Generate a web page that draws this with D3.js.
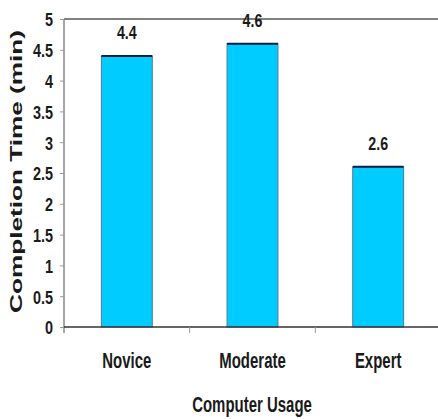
<html lang="en">
<head>
<meta charset="UTF-8">
<title>Completion Time</title>
<script src="https://d3js.org/d3.v7.min.js"></script>
<style>
  body { margin: 0; background: #fff; }
  .narrow { font-family: "Liberation Sans", Arial, sans-serif; font-weight: bold; fill: #1a1a1a; }
</style>
</head>
<body>
<div id="chart"></div>
<script>
var categories = ["Novice", "Moderate", "Expert"];
var values = [4.4, 4.6, 2.6];
var yTicks = [0, 0.5, 1, 1.5, 2, 2.5, 3, 3.5, 4, 4.5, 5];

var width = 438, height = 419;
var plotLeft = 64, plotTop = 19, plotRight = 441, plotBottom = 327;

// squeeze text horizontally to mimic a narrow font
function squeeze(sel, factor) {
    sel.each(function() {
        var len = this.getComputedTextLength();
        d3.select(this)
            .attr("textLength", len * factor)
            .attr("lengthAdjust", "spacingAndGlyphs");
    });
}

var svg = d3.select("#chart").append("svg")
    .attr("width", width)
    .attr("height", height);

var xScale = d3.scaleBand()
    .domain(categories)
    .range([plotLeft, plotRight])
    .paddingInner(0.595)
    .paddingOuter(0.2975);

var yScale = d3.scaleLinear()
    .domain([0, 5])
    .range([plotBottom, plotTop]);

// top border line
svg.append("line")
    .attr("x1", plotLeft).attr("x2", width)
    .attr("y1", yScale(5)).attr("y2", yScale(5))
    .attr("stroke", "#808080").attr("stroke-width", 2);

// bars
svg.selectAll(".bar")
    .data(values)
    .enter()
    .append("rect")
    .attr("class", "bar")
    .attr("x", function(d, i) { return xScale(categories[i]); })
    .attr("y", function(d) { return yScale(d); })
    .attr("width", xScale.bandwidth())
    .attr("height", function(d) { return plotBottom - yScale(d); })
    .attr("fill", "#00ccff")
    .attr("stroke", "#4a7a9a")
    .attr("stroke-width", 1);

// dark top edge on bars
svg.selectAll(".bartop")
    .data(values)
    .enter()
    .append("line")
    .attr("x1", function(d, i) { return xScale(categories[i]); })
    .attr("x2", function(d, i) { return xScale(categories[i]) + xScale.bandwidth(); })
    .attr("y1", function(d) { return yScale(d); })
    .attr("y2", function(d) { return yScale(d); })
    .attr("stroke", "#102040")
    .attr("stroke-width", 2);

// value labels
var vLabels = svg.selectAll(".vlabel")
    .data(values)
    .enter()
    .append("text")
    .attr("class", "narrow")
    .attr("x", function(d, i) { return xScale(categories[i]) + xScale.bandwidth() / 2; })
    .attr("y", function(d) { return yScale(d) - 17; })
    .attr("text-anchor", "middle")
    .style("font-size", "19px")
    .text(function(d) { return d.toFixed(1); });
squeeze(vLabels, 0.75);

// y axis
var yAxis = d3.axisLeft(yScale)
    .tickValues(yTicks)
    .tickSize(4)
    .tickPadding(7)
    .tickFormat(function(d) { return String(d); });

var yG = svg.append("g")
    .attr("transform", "translate(" + plotLeft + ",0)")
    .call(yAxis);
yG.select(".domain").attr("stroke", "#888").attr("stroke-width", 1.5)
    .attr("d", "M0," + plotTop + "V" + (plotBottom + 6));
yG.selectAll(".tick line").attr("stroke", "#999");
var yLabels = yG.selectAll(".tick text")
    .attr("class", "narrow")
    .attr("font-family", null)
    .attr("dy", "0.36em")
    .style("font-size", "19px");
squeeze(yLabels, 0.76);

// x axis
var xG = svg.append("g")
    .attr("transform", "translate(0," + plotBottom + ")")
    .call(d3.axisBottom(xScale).tickSize(0).tickPadding(27));
xG.select(".domain").attr("stroke", "#333").attr("stroke-width", 1.5)
    .attr("d", "M" + plotLeft + ",0H" + width);
var xLabels = xG.selectAll(".tick text")
    .attr("class", "narrow")
    .attr("dy", null)
    .attr("y", 41)
    .style("font-size", "22px");
squeeze(xLabels, 0.68);

// category separator ticks
xG.selectAll(".sep")
    .data(categories.slice(1))
    .enter()
    .append("line")
    .attr("x1", function(d) { return xScale(d) - xScale.step() * xScale.paddingInner() / 2; })
    .attr("x2", function(d) { return xScale(d) - xScale.step() * xScale.paddingInner() / 2; })
    .attr("y1", 0).attr("y2", 6)
    .attr("stroke", "#999");

// axis titles
var xTitle = svg.append("text")
    .attr("class", "narrow")
    .attr("x", 252)
    .attr("y", 412)
    .attr("text-anchor", "middle")
    .style("font-size", "22px")
    .text("Computer Usage");
squeeze(xTitle, 0.68);

svg.append("text")
    .attr("transform", "translate(22,171.5) rotate(-90)")
    .attr("text-anchor", "middle")
    .attr("textLength", 283)
    .attr("lengthAdjust", "spacingAndGlyphs")
    .style("font-family", "Liberation Sans, Arial, sans-serif")
    .style("font-weight", "bold")
    .style("font-size", "17px")
    .attr("fill", "#1a1a1a")
    .text("Completion Time (min)");
</script>
</body>
</html>
